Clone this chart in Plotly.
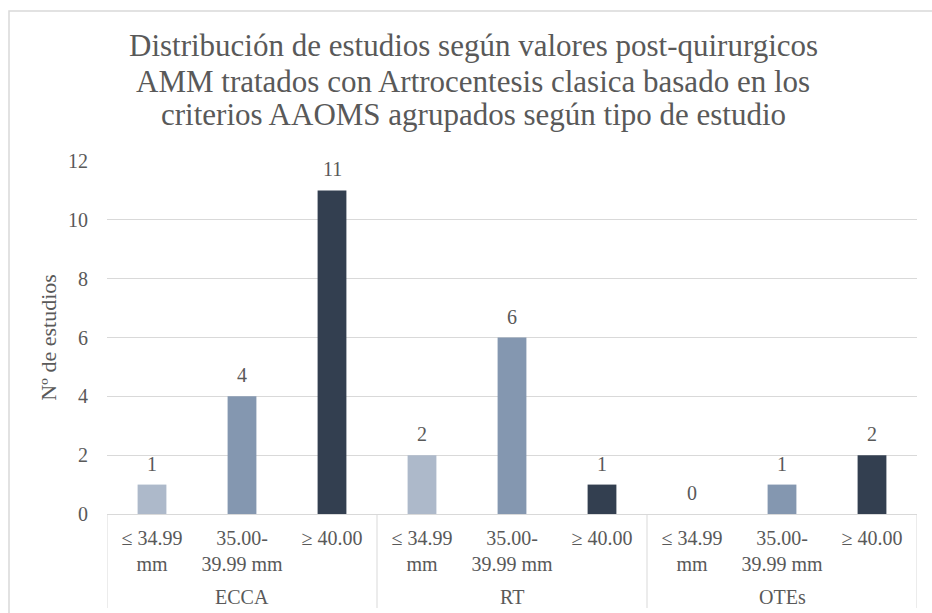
import plotly.graph_objects as go

# Study counts by post-surgical maximum mouth opening, grouped by study type
study_types = ["ECCA", "RT", "OTEs"]
range_labels = ["≤ 34.99<br>mm", "35.00-<br>39.99 mm", "≥ 40.00"]
counts = [1, 4, 11, 2, 6, 1, 0, 1, 2]
range_colors = ["#adb9ca", "#8497b0", "#333f50"]

title_lines = [
    "Distribución de estudios según valores post-quirurgicos",
    "AMM tratados con Artrocentesis clasica basado en los",
    "criterios AAOMS agrupados según tipo de estudio",
]
y_title = "Nº de estudios"
y_ticks = [0, 2, 4, 6, 8, 10, 12]

FONT = "Liberation Serif"
TXT = "#595959"
GRID = "#d9d9d9"

W, H = 932, 613
L, R, T, B = 107, 15, 161, 99
PW, PH = W - L - R, H - T - B

n_ranges = len(range_labels)
xpos = list(range(len(counts)))
bar_colors = [range_colors[i % n_ranges] for i in xpos]
tick_text = [range_labels[i % n_ranges] for i in xpos]


def py(px):
    """pixel row -> paper y"""
    return (H - B - px) / PH


def pxx(px):
    """pixel column -> paper x"""
    return (px - L) / PW


fig = go.Figure(
    go.Bar(
        x=xpos,
        y=counts,
        marker=dict(color=bar_colors, line=dict(width=0)),
        width=0.32,
        hoverinfo="x+y",
    )
)

# value labels above each bar
for xi, v in zip(xpos, counts):
    fig.add_annotation(
        x=xi, y=v, xref="x", yref="y", text=str(v), showarrow=False,
        yanchor="bottom", yshift=8,
        font=dict(family=FONT, size=20, color=TXT),
    )

# study-type group labels and dividers
for g, name in enumerate(study_types):
    fig.add_annotation(
        x=g * n_ranges + (n_ranges - 1) / 2, y=py(597), xref="x", yref="paper",
        text=name, showarrow=False, yanchor="middle",
        font=dict(family=FONT, size=20, color=TXT),
    )
for g in range(len(study_types) + 1):
    fig.add_shape(
        type="line", xref="x", yref="paper",
        x0=g * n_ranges - 0.5, x1=g * n_ranges - 0.5, y0=0, y1=py(608),
        line=dict(color=GRID, width=1),
    )

# title, one annotation per line
for line, ypx in zip(title_lines, [46, 82, 115]):
    fig.add_annotation(
        x=pxx(473), y=py(ypx), xref="paper", yref="paper", text=line,
        showarrow=False, xanchor="center", yanchor="middle",
        font=dict(family=FONT, size=31, color=TXT),
    )

# outer chart frame
fig.add_shape(
    type="rect", xref="paper", yref="paper",
    x0=pxx(9), x1=pxx(W + 10), y0=py(H + 10), y1=py(11),
    line=dict(color=GRID, width=1.5), fillcolor="rgba(0,0,0,0)",
    layer="below",
)

fig.update_layout(
    width=W,
    height=H,
    margin=dict(l=L, r=R, t=T, b=B, pad=0),
    paper_bgcolor="white",
    plot_bgcolor="white",
    showlegend=False,
    font=dict(family=FONT, size=20, color=TXT),
    xaxis=dict(
        range=[-0.5, len(counts) - 0.5],
        tickvals=xpos,
        ticktext=tick_text,
        showline=True,
        linecolor=GRID,
        linewidth=1,
        showgrid=False,
        zeroline=False,
        ticks="",
        ticklabelstandoff=6,
        tickfont=dict(family=FONT, size=20, color=TXT),
    ),
    yaxis=dict(
        range=[0, 12],
        tickvals=y_ticks,
        showgrid=True,
        gridcolor=GRID,
        gridwidth=1,
        zeroline=False,
        showline=False,
        ticks="",
        ticklabelstandoff=18,
        tickfont=dict(family=FONT, size=20, color=TXT),
        title=dict(text=y_title, standoff=5,
                   font=dict(family=FONT, size=22, color=TXT)),
    ),
)

fig.write_html("out.html")
